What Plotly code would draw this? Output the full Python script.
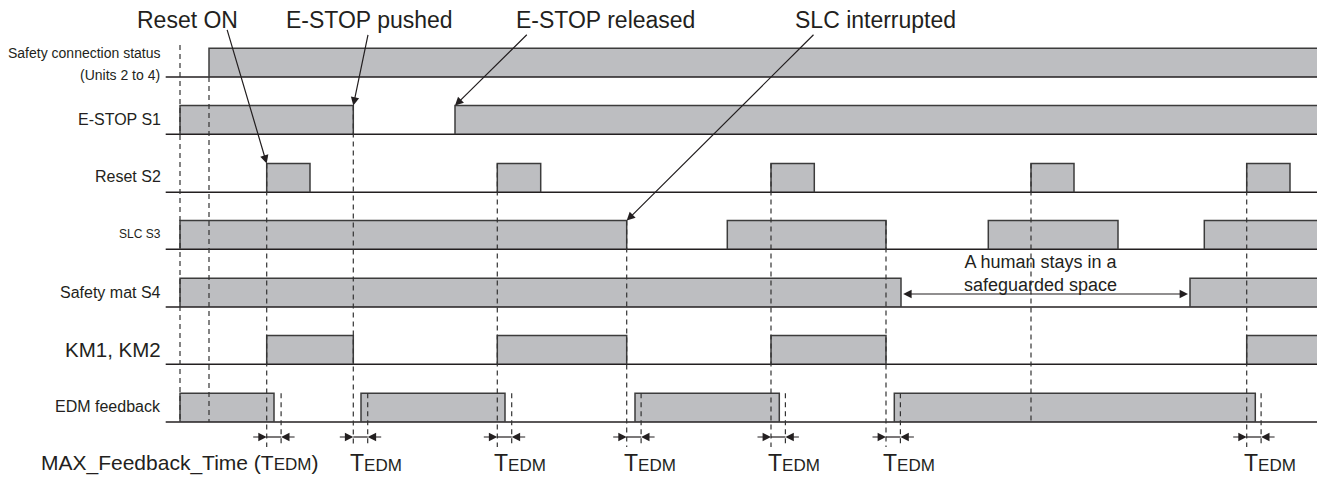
import plotly.graph_objects as go

# ---------------- data (time axis, arbitrary units) ----------------
T_START = 165.7
T_END = 1317.0

signal_names = ["Safety connection status", "E-STOP S1", "Reset S2", "SLC S3",
                "Safety mat S4", "KM1, KM2", "EDM feedback"]

safety_conn_on = [(209.0, T_END)]
estop_on = [(180.0, 353.3), (455.0, T_END)]
reset_on = [(266.7, 310.0), (497.3, 540.7), (771.0, 814.3), (1031.0, 1074.0), (1246.7, 1290.0)]
slc_on = [(180.0, 626.7), (727.3, 886.0), (988.3, 1118.0), (1204.3, T_END)]
mat_on = [(180.0, 901.0), (1190.0, T_END)]
km_on = [(266.7, 353.3), (497.3, 626.7), (771.0, 886.0), (1246.7, T_END)]
edm_on = [(180.0, 274.0), (361.0, 505.0), (635.0, 779.3), (894.3, 1255.3)]

signals_on = [safety_conn_on, estop_on, reset_on, slc_on, mat_on, km_on, edm_on]

# reference instants (dashed)
t_power = 180.0
t_connect = 209.0
event_times = [266.7, 353.3, 497.3, 626.7, 771.0, 886.0, 1246.7]
event_rows = [2, 1, 2, 3, 2, 3, 2]
t_reset_blocked = 1031.0
T_EDM = 14.4

callout_texts = ["Reset ON", "E-STOP pushed", "E-STOP released", "SLC interrupted"]
callout_times = [266.7, 353.3, 455.0, 626.7]
callout_rows = [2, 1, 1, 3]

human_zone = (901.7, 1188.0)
human_text = ["A human stays in a", "safeguarded space"]

# ---------------- layout constants ----------------
ROW_BASE = [77.0, 134.3, 192.3, 249.3, 307.0, 364.3, 422.0]
HIGH = 28.7
FILL = "#bdbec1"
EDGE = "#3c3c3c"
INK = "#231f20"
FONT = "Liberation Sans, Arial, sans-serif"
DASH = "5px,4px"
ARROW_Y = 437.0
DASH_BOTTOM = 447.0

fig = go.Figure()

# fills
for i, pulses in enumerate(signals_on):
    base = ROW_BASE[i]
    top = base - HIGH
    xs, ys = [], []
    for a, b in pulses:
        xs += [a, a, b, b, a, None]
        ys += [base, top, top, base, base, None]
    fig.add_trace(go.Scatter(x=xs, y=ys, mode="lines", fill="toself", fillcolor=FILL,
                             line=dict(width=0), hoverinfo="skip", showlegend=False))

# baselines
for i in range(len(signals_on)):
    fig.add_trace(go.Scatter(x=[T_START, T_END], y=[ROW_BASE[i]] * 2, mode="lines",
                             line=dict(color=INK, width=1.5), hoverinfo="skip", showlegend=False))

# outlines
for i, pulses in enumerate(signals_on):
    base = ROW_BASE[i]
    top = base - HIGH
    xs, ys = [], []
    for a, b in pulses:
        if b < T_END:
            xs += [a, a, b, b, None]
            ys += [base, top, top, base, None]
        else:
            xs += [a, a, b, None]
            ys += [base, top, top, None]
    fig.add_trace(go.Scatter(x=xs, y=ys, mode="lines", line=dict(color=EDGE, width=1.5),
                             hoverinfo="skip", showlegend=False))

# dashed reference lines
dx, dy = [], []
dx += [t_power, t_power, None]; dy += [45.0, ROW_BASE[6], None]
dx += [t_connect, t_connect, None]; dy += [ROW_BASE[0], ROW_BASE[6], None]
for t, r in zip(event_times, event_rows):
    dx += [t, t, None]; dy += [ROW_BASE[r] - HIGH, DASH_BOTTOM, None]
    dx += [t + T_EDM, t + T_EDM, None]; dy += [ROW_BASE[6] - HIGH, DASH_BOTTOM, None]
dx += [t_reset_blocked, t_reset_blocked, None]; dy += [ROW_BASE[2] - HIGH, ROW_BASE[6], None]
fig.add_trace(go.Scatter(x=dx, y=dy, mode="lines", line=dict(color="#333333", width=1.2, dash=DASH),
                         hoverinfo="skip", showlegend=False))

# T_EDM connecting segments
sx, sy = [], []
for t in event_times:
    sx += [t, t + T_EDM, None]; sy += [ARROW_Y, ARROW_Y, None]
fig.add_trace(go.Scatter(x=sx, y=sy, mode="lines", line=dict(color=INK, width=1.2),
                         hoverinfo="skip", showlegend=False))

annotations = []


def arrow(x, y, ax, ay, side="end"):
    annotations.append(dict(x=x, y=y, ax=ax, ay=ay, xref="x", yref="y", axref="x", ayref="y",
                            text="", showarrow=True, arrowhead=2, arrowsize=1.4, arrowwidth=1.2,
                            arrowcolor=INK, standoff=0, startstandoff=0, arrowside=side,
                            startarrowhead=2, startarrowsize=1.4))


def label(x, y, text, size, xanchor="center"):
    annotations.append(dict(x=x, y=y, xref="x", yref="y", text=text, showarrow=False,
                            xanchor=xanchor, yanchor="middle",
                            font=dict(family=FONT, size=size, color=INK)))


# T_EDM arrows
for t in event_times:
    arrow(t, ARROW_Y, t - 15, ARROW_Y)
    arrow(t + T_EDM, ARROW_Y, t + T_EDM + 15, ARROW_Y)

# callouts
callout_label_x = [187.5, 369.0, 605.5, 875.0]
callout_tail_x = [226.7, 368.3, 528.3, 815.0]
callout_tail_y = [28.3, 33.3, 33.3, 33.3]
for txt, t, r, lx, tx, ty in zip(callout_texts, callout_times, callout_rows,
                                 callout_label_x, callout_tail_x, callout_tail_y):
    label(lx, 19.5, txt, 23)
    arrow(t, ROW_BASE[r] - HIGH, tx, ty)

# human zone
arrow(human_zone[1], 294.0, human_zone[0], 294.0, side="end+start")
label(1040.5, 273.5, human_text[0] + "<br>" + human_text[1], 18)

# row labels
row_label_y = [None, 119.0, 176.5, 234.0, 292.0, 349.0, 406.5]
row_label_size = [None, 16, 16, 12, 16, 20.5, 16]
label(162.5, 53.0, "Safety connection status", 14, "right")
label(161.5, 75.0, "(Units 2 to 4)", 14, "right")
for i in range(1, len(signal_names)):
    label(162.5, row_label_y[i], signal_names[i], row_label_size[i], "right")

# bottom labels
tedm_txt = "T<span style='font-size:17px'>EDM</span>"
label(179.0, 463.0, "MAX_Feedback_Time (" + tedm_txt + ")", 21)
for t in event_times[1:]:
    label(t - 5, 463.0, tedm_txt, 23, "left")

fig.update_layout(
    width=1323, height=483, autosize=False,
    margin=dict(l=0, r=0, t=0, b=0),
    paper_bgcolor="white", plot_bgcolor="white",
    xaxis=dict(range=[0, 1323], visible=False, fixedrange=True),
    yaxis=dict(range=[483, 0], visible=False, fixedrange=True),
    annotations=annotations,
    showlegend=False,
)

fig.write_html("out.html", config={"displayModeBar": False, "staticPlot": True},
               post_script="document.body.style.margin='0';document.body.style.overflow='hidden';")
